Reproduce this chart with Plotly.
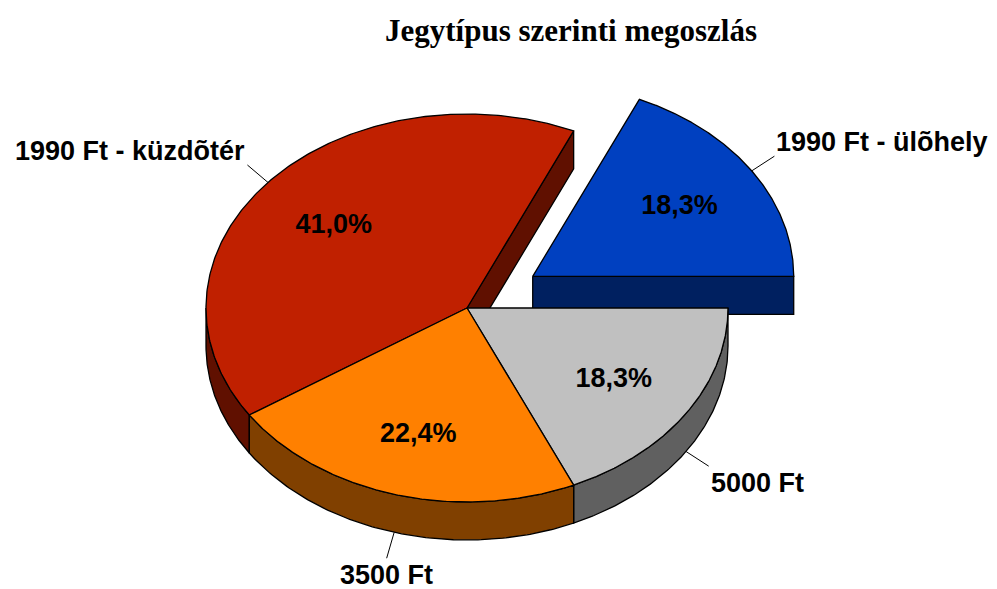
import numpy as np
import plotly.graph_objects as go

# ---- data ----
categories = ["1990 Ft - ülõhely", "1990 Ft - küzdõtér", "3500 Ft", "5000 Ft"]
values = [18.3, 41.0, 22.4, 18.3]
pulls = [0.3, 0.0, 0.0, 0.0]
title_text = "Jegytípus szerinti megoszlás"

# ---- style ----
top_colors = ["#0040C0", "#C02000", "#FF8000", "#C0C0C0"]
side_colors = ["#002060", "#601000", "#804000", "#606060"]
W, H = 997, 589
CX, CY = 467, 308          # centre of the top face
RX, RY = 261, 194          # ellipse radii of the top face
DEPTH = 38                 # thickness of the pie
LBL_F = 0.67               # radial position of percentage labels
LBL_DY = 2                 # small downward nudge of percentage labels
LEAD = 27                  # leader line length
FONT = "Liberation Sans, Arial, sans-serif"
FS = 27

vals = np.array(values, dtype=float)
ends = np.cumsum(vals) / vals.sum() * 360.0
starts = ends - vals / vals.sum() * 360.0
mids = (starts + ends) / 2


def pt(theta, ox, oy, dz=0.0):
    t = np.radians(theta)
    return CX + ox + RX * np.cos(t), CY + oy - RY * np.sin(t) + dz


def poly(xs, ys, color):
    xs = list(xs) + [xs[0]]
    ys = list(ys) + [ys[0]]
    return go.Scatter(x=xs, y=ys, mode="lines", fill="toself", fillcolor=color,
                      line=dict(color="black", width=1.3), hoverinfo="skip",
                      showlegend=False)


fig = go.Figure()
order = np.argsort(-np.sin(np.radians(mids)))
n = len(vals)
offsets = []
for i in range(n):
    m = np.radians(mids[i])
    offsets.append((pulls[i] * RX * np.cos(m), -pulls[i] * RY * np.sin(m)))

for i in order:
    a0, a1 = starts[i], ends[i]
    ox, oy = offsets[i]
    cx, cy = CX + ox, CY + oy
    prev_pulled = pulls[(i - 1) % n] > 0
    next_pulled = pulls[(i + 1) % n] > 0
    # radial face at start edge
    if np.cos(np.radians(a0)) > 1e-9 and (pulls[i] > 0 or prev_pulled):
        ex, ey = pt(a0, ox, oy)
        fig.add_trace(poly([cx, ex, ex, cx], [cy, ey, ey + DEPTH, cy + DEPTH], side_colors[i]))
    # radial face at end edge
    if np.cos(np.radians(a1)) < -1e-9 and (pulls[i] > 0 or next_pulled):
        ex, ey = pt(a1, ox, oy)
        fig.add_trace(poly([cx, ex, ex, cx], [cy, ey, ey + DEPTH, cy + DEPTH], side_colors[i]))
    # outer wall (front half only)
    t0, t1 = max(a0, 180.0), min(a1, 360.0)
    if t1 > t0:
        th = np.linspace(t0, t1, 120)
        xt, yt = pt(th, ox, oy)
        xb, yb = pt(th[::-1], ox, oy, DEPTH)
        fig.add_trace(poly(np.concatenate([xt, xb]), np.concatenate([yt, yb]), side_colors[i]))
    # top face
    th = np.linspace(a0, a1, 240)
    xa, ya = pt(th, ox, oy)
    fig.add_trace(poly(np.concatenate([[cx], xa]), np.concatenate([[cy], ya]), top_colors[i]))

# percentage labels
px, py, ptxt = [], [], []
for i in range(n):
    ox, oy = offsets[i]
    t = np.radians(mids[i])
    px.append(CX + ox + LBL_F * RX * np.cos(t))
    py.append(CY + oy - LBL_F * RY * np.sin(t) + LBL_DY)
    ptxt.append(f"{values[i]:.1f}".replace(".", ",") + "%")
fig.add_trace(go.Scatter(x=px, y=py, text=ptxt, mode="text", textposition="middle center",
                         textfont=dict(family=FONT, size=FS, color="black", weight="bold"),
                         hoverinfo="skip", showlegend=False))

# leader lines + category labels
for i in range(n):
    ox, oy = offsets[i]
    t = np.radians(mids[i])
    dz = DEPTH if np.sin(t) < 0 else 0.0
    sx, sy = pt(mids[i], ox, oy, dz)
    exx, eyy = sx + LEAD * np.cos(t), sy - LEAD * np.sin(t)
    fig.add_trace(go.Scatter(x=[sx, exx], y=[sy, eyy], mode="lines",
                             line=dict(color="black", width=1), hoverinfo="skip",
                             showlegend=False))
    if abs(np.cos(t)) < 0.4:
        xanchor = "center"
    elif np.cos(t) < 0:
        xanchor = "right"
    else:
        xanchor = "left"
    upper = np.sin(t) > 0
    fig.add_annotation(x=exx, y=eyy, text=categories[i], showarrow=False,
                       xanchor=xanchor, yanchor="bottom" if upper else "top",
                       yshift=-3 if upper else 0,
                       font=dict(family=FONT, size=FS, color="black", weight="bold"))

fig.update_layout(
    width=W, height=H, autosize=False,
    margin=dict(l=0, r=0, t=0, b=0),
    paper_bgcolor="white", plot_bgcolor="white",
    xaxis=dict(range=[0, W], visible=False, fixedrange=True),
    yaxis=dict(range=[H, 0], visible=False, fixedrange=True),
    title=dict(text=title_text, x=571 / W, xanchor="center", y=1 - 30 / H, yanchor="middle",
               yref="container",
               font=dict(family="Liberation Serif, Times New Roman, serif", size=31,
                         color="black", weight="bold")),
    showlegend=False,
)

fig.write_html("out.html", config={"displayModeBar": False},
               post_script="document.body.style.margin='0';document.body.style.overflow='hidden';")
